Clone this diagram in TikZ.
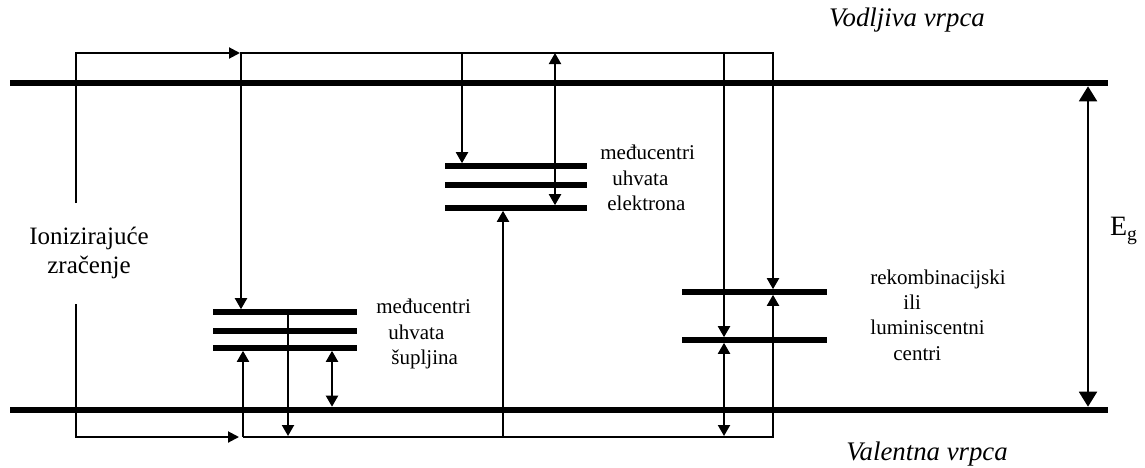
\documentclass[tikz,border=0pt]{standalone}
\usepackage{fontspec}
\setmainfont{Liberation Serif}
\usetikzlibrary{arrows.meta}

\tikzset{
  band/.style={line width=3.3pt},
  level/.style={line width=2.8pt},
  rail/.style={line width=1pt},
  down/.style={rail, -{Triangle[length=5.5pt,width=6pt]}},
  updown/.style={rail, {Triangle[length=5.5pt,width=6pt]}-{Triangle[length=5.5pt,width=6pt]}},
  lbl/.style={font=\fontsize{10.5}{12.7}\selectfont, align=left, inner sep=0pt},
  bandlbl/.style={font=\fontsize{13.4}{16}\selectfont\itshape, inner sep=0pt},
}

\begin{document}
\begin{tikzpicture}[x=0.5pt,y=-0.5pt]
  \useasboundingbox (0,0) rectangle (1145,467);

  % Vodljiva i valentna vrpca
  \coordinate (cbL) at (10,83);  \coordinate (cbR) at (1108,83);
  \coordinate (vbL) at (10,410); \coordinate (vbR) at (1108,410);
  \draw[band] (cbL) -- (cbR);
  \draw[band] (vbL) -- (vbR);
  \node[bandlbl] (vodljiva) at (907,20) {Vodljiva vrpca};
  \node[bandlbl] (valentna) at (927,454) {Valentna vrpca};

  % Medjucentri uhvata elektrona
  \foreach \y in {166,185,208}
    \draw[level] (445,\y) -- (587,\y);
  \node[lbl, anchor=west] (elektron) at (600,178)
    {me\dj ucentri\\\hspace*{6pt}uhvata\\\hspace*{3.5pt}elektrona};

  % Medjucentri uhvata supljina
  \foreach \y in {312,331,348}
    \draw[level] (213,\y) -- (357,\y);
  \node[lbl, anchor=west] (supljina) at (376,334)
    {me\dj ucentri\\\hspace*{6pt}uhvata\\\hspace*{7.5pt}šupljina};

  % Rekombinacijski centri
  \foreach \y in {292,340}
    \draw[level] (682,\y) -- (827,\y);
  \node[lbl, anchor=west] (rekomb) at (870,315)
    {rekombinacijski\\\hspace*{16.5pt}ili\\luminiscentni\\\hspace*{11.5pt}centri};

  % Ionizirajuce zracenje
  \node[font=\fontsize{12.5}{14.5}\selectfont, align=center, inner sep=0pt] (ion) at (89,253)
    {Ionizirajuće\\zračenje};
  \draw[rail, -{Triangle[length=5.5pt,width=5.5pt]}] (76,203) |- (240,53);
  \draw[rail, -{Triangle[length=5.5pt,width=5.5pt]}] (76,304) |- (239,437);

  % Prijelazi
  \draw[down] (240,53) -| (773,289.2);
  \draw[down] (243,437) -| (773,294.8);
  \draw[down] (241,53) -- (241,309.2);
  \draw[down] (243,437) -- (243,350.8);
  \draw[down] (288,312) -- (288,436);
  \draw[updown] (332,350.8) -- (332,406.7);
  \draw[down] (462,53) -- (462,163.2);
  \draw[updown] (555,53) -- (555,205.2);
  \draw[down] (503,437) -- (503,210.8);
  \draw[down] (724,53) -- (724,337.2);
  \draw[updown] (724,342.8) -- (724,436);

  % Sirina zabranjene zone
  \draw[rail, {Triangle[length=7.5pt,width=9pt]}-{Triangle[length=7.5pt,width=9pt]}] (1088,86.3) -- (1088,406.7);
  \node[font=\fontsize{14}{16}\selectfont, inner sep=0pt] (eg) at (1124,231) {E\textsubscript{g}};
\end{tikzpicture}
\end{document}
